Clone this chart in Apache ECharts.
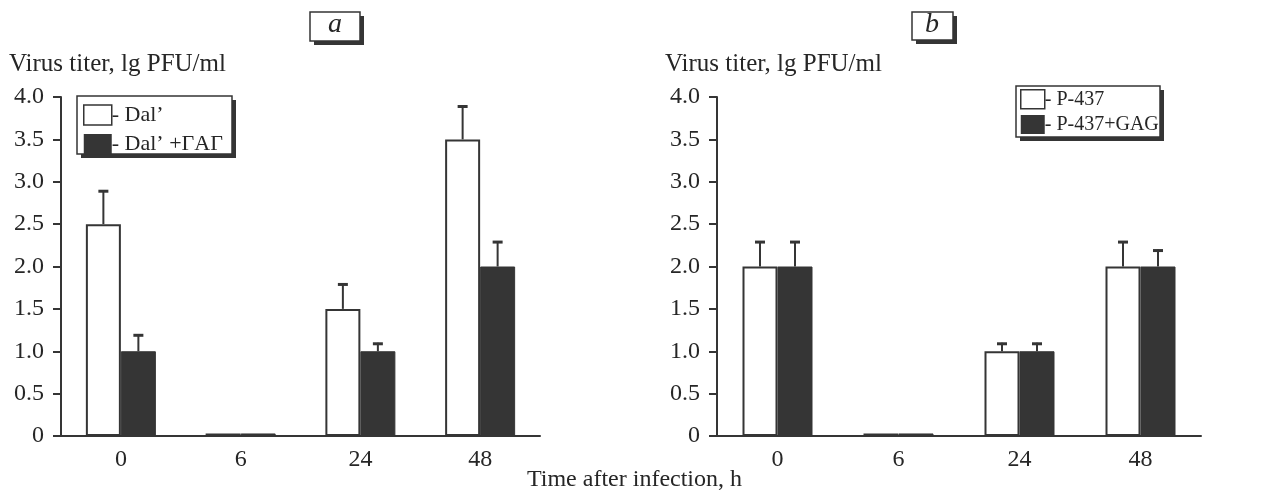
<!DOCTYPE html>
<html><head><meta charset="utf-8">
<script src="https://cdn.jsdelivr.net/npm/echarts@6/dist/echarts.min.js"></script>
<style>html,body{margin:0;padding:0;background:#fff}#c{width:1269px;height:493px}</style>
</head><body><div id="c"></div>
<script>
const categories = ['0', '6', '24', '48'];
const aWhiteName = "Dal\u2019";
const aBlackName = "Dal\u2019 +\u0393\u0410\u0393";
const aWhite = [2.5, 0.03, 1.5, 3.5];
const aWhiteErr = [0.4, 0, 0.3, 0.4];
const aBlack = [1.0, 0.03, 1.0, 2.0];
const aBlackErr = [0.2, 0, 0.1, 0.3];
const bWhiteName = 'P-437';
const bBlackName = 'P-437+GAG';
const bWhite = [2.0, 0.03, 1.0, 2.0];
const bWhiteErr = [0.3, 0, 0.1, 0.3];
const bBlack = [2.0, 0.03, 1.0, 2.0];
const bBlackErr = [0.3, 0, 0.1, 0.2];
const yTickMin = 0, yTickMax = 4, yTickStep = 0.5;
const yAxisTitle = 'Virus titer, lg PFU/ml';
const xAxisTitle = 'Time after infection, h';
const panelLabels = ['a', 'b'];

const DARK = '#353535';
const TXT = '#262626';
const FONT = '"Liberation Serif", "DejaVu Serif", serif';
const BW = 35;

const chart = echarts.init(document.getElementById('c'));

function errSeries(name, vals, errs, gridIdx, offset) {
  return {
    type: 'custom', name: name + '_err', xAxisIndex: gridIdx, yAxisIndex: gridIdx,
    silent: true, z: 5,
    data: vals.map((v, i) => [i, v, errs[i]]),
    renderItem: function (params, api) {
      const i = api.value(0), v = api.value(1), e = api.value(2);
      if (!e) return null;
      const p0 = api.coord([i, v]);
      const p1 = api.coord([i, v + e]);
      const x = p0[0] + offset;
      return {
        type: 'group', children: [
          { type: 'line', shape: { x1: x, y1: p0[1], x2: x, y2: p1[1] }, style: { stroke: DARK, lineWidth: 2 } },
          { type: 'line', shape: { x1: x - 5, y1: p1[1] + 1, x2: x + 5, y2: p1[1] + 1 }, style: { stroke: DARK, lineWidth: 3 } }
        ]
      };
    }
  };
}

function barSeries(name, vals, gridIdx, dark) {
  return {
    type: 'bar', name: name, xAxisIndex: gridIdx, yAxisIndex: gridIdx,
    data: vals, barWidth: BW, barGap: '0%',
    itemStyle: dark ? { color: DARK, borderColor: DARK, borderWidth: 1 } : { color: '#fff', borderColor: DARK, borderWidth: 2 }
  };
}

function legendCfg(names, pos, iw, ih, gap, fs) {
  return Object.assign({
    orient: 'vertical',
    data: names.map((n, k) => ({ name: n, icon: 'rect', itemStyle: k === 0 ? { color: '#fff', borderColor: DARK, borderWidth: 1.5 } : { color: DARK, borderWidth: 0 } })),
    itemWidth: iw, itemHeight: ih, itemGap: gap,
    formatter: '- {name}',
    textStyle: { fontFamily: FONT, fontSize: fs, color: TXT, padding: [0, 0, 0, -5] },
    padding: 0,
    selectedMode: false
  }, pos);
}

function shadowBox(x, y, w, h) {
  return [
    { type: 'rect', z: 1, shape: { x: x + 4, y: y + 4, width: w, height: h }, style: { fill: DARK } },
    { type: 'rect', z: 2, shape: { x: x, y: y, width: w, height: h }, style: { fill: '#fff', stroke: DARK, lineWidth: 1.5 } }
  ];
}

function panelLabel(text, cx, cy) {
  return { type: 'text', z: 3, x: cx, y: cy, style: { text: text, font: 'italic 28px ' + FONT, fill: TXT, align: 'center', verticalAlign: 'middle' } };
}

function yAx(gridIdx) {
  return {
    type: 'value', gridIndex: gridIdx, min: yTickMin, max: yTickMax, interval: yTickStep,
    name: yAxisTitle, nameLocation: 'end', nameGap: 20,
    nameTextStyle: { fontFamily: FONT, fontSize: 25, color: TXT, align: 'left', padding: [0, 0, 0, -52] },
    axisLine: { show: true, lineStyle: { color: DARK, width: 2 } },
    axisTick: { show: true, length: 8, lineStyle: { color: DARK, width: 2 } },
    axisLabel: { fontFamily: FONT, fontSize: 24, color: TXT, margin: 17, formatter: v => v === 0 ? '0' : v.toFixed(1) },
    splitLine: { show: false }
  };
}

function xAx(gridIdx) {
  return {
    type: 'category', gridIndex: gridIdx, data: categories,
    axisLine: { show: true, lineStyle: { color: DARK, width: 2 } },
    axisTick: { show: false },
    axisLabel: { fontFamily: FONT, fontSize: 24, color: TXT, margin: 12 }
  };
}

chart.setOption({
  animation: false,
  backgroundColor: '#fff',
  legend: [
    legendCfg([aWhiteName, aBlackName], { left: 83, top: 104 }, 28, 20, 7, 22),
    legendCfg([bWhiteName, bBlackName], { left: 1020, top: 89 }, 24, 19, 5, 20)
  ],
  grid: [
    { left: 61, width: 479, top: 97, height: 339 },
    { left: 717, width: 484, top: 97, height: 339 }
  ],
  xAxis: [xAx(0), xAx(1)],
  yAxis: [yAx(0), yAx(1)],
  graphic: [
    ...shadowBox(310, 12, 50, 29),
    panelLabel(panelLabels[0], 335, 25),
    ...shadowBox(912, 12, 41, 28),
    panelLabel(panelLabels[1], 932, 25),
    ...shadowBox(77, 96, 155, 58),
    ...shadowBox(1016, 86, 144, 51),
    {
      type: 'text', left: 'center', top: 468,
      style: { text: xAxisTitle, font: '24px ' + FONT, fill: TXT }
    }
  ],
  series: [
    barSeries(aWhiteName, aWhite, 0, false),
    barSeries(aBlackName, aBlack, 0, true),
    barSeries(bWhiteName, bWhite, 1, false),
    barSeries(bBlackName, bBlack, 1, true),
    errSeries(aWhiteName, aWhite, aWhiteErr, 0, -BW / 2),
    errSeries(aBlackName, aBlack, aBlackErr, 0, BW / 2),
    errSeries(bWhiteName, bWhite, bWhiteErr, 1, -BW / 2),
    errSeries(bBlackName, bBlack, bBlackErr, 1, BW / 2)
  ]
});
</script></body></html>
